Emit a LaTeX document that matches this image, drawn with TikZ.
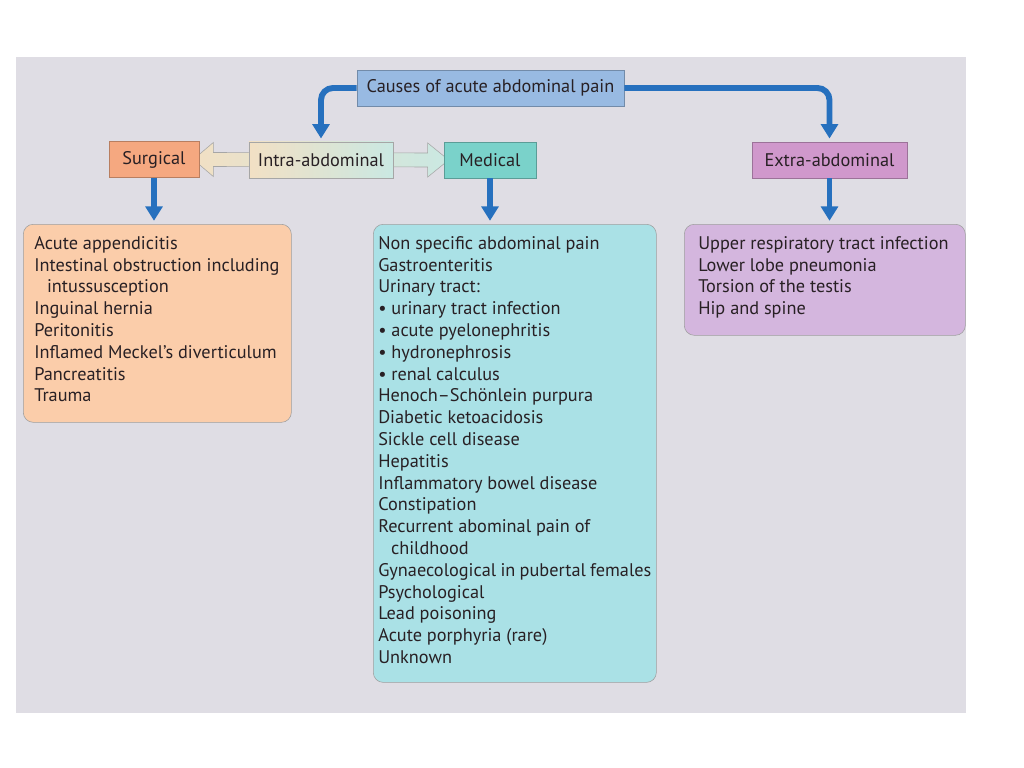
\documentclass[tikz,border=0pt]{standalone}
\usepackage{fontspec}
\setmainfont{PT Sans}
\usetikzlibrary{arrows.meta, calc, backgrounds}
\definecolor{panelgray}{RGB}{223, 221, 228}
\definecolor{flowblue}{RGB}{38, 112, 190}
\definecolor{inkdark}{RGB}{40, 32, 36}
\definecolor{causeblue}{RGB}{152, 186, 226}
\definecolor{surgorange}{RGB}{245, 168, 128}
\definecolor{medteal}{RGB}{122, 210, 202}
\definecolor{extrapink}{RGB}{208, 152, 204}
\definecolor{intrabeige}{RGB}{242, 224, 196}
\definecolor{intracyan}{RGB}{202, 232, 226}
\definecolor{surglight}{RGB}{251, 205, 170}
\definecolor{medlight}{RGB}{170, 225, 230}
\definecolor{extralight}{RGB}{212, 182, 222}
\newcommand{\causefont}{\fontsize{13}{15.5}\selectfont}

\begin{document}
\begin{tikzpicture}[x=0.025cm, y=-0.025cm,
    >={Triangle[width=0.42cm, length=0.36cm]},
    hdr/.style={draw=#1!75!black, fill=#1, minimum height=0.9cm, inner sep=0pt, text=inkdark, font=\causefont},
    listbox/.style={draw=gray!75, fill=#1, rounded corners=0.25cm, anchor=north west, inner ysep=0.3cm, text=inkdark, font=\causefont},
    flow/.style={->, line width=4.2pt, draw=flowblue, rounded corners=0.3cm, shorten >=0.08cm}]
    \useasboundingbox (0,0) rectangle (1024,768);

    % top row
    \node[hdr=causeblue, minimum width=6.675cm] (causes) at (490.5,88) {Causes of acute abdominal pain};
    \node[hdr=surgorange, minimum width=2.25cm] (surg) at (154,159.5) {Surgical};
    \node[hdr=medteal, minimum width=2.3cm] (med) at (490,160) {Medical};
    \node[hdr=extrapink, minimum width=3.875cm] (extra) at (829.5,160) {Extra-abdominal};
    \node[hdr=intrabeige, left color=intrabeige, right color=intracyan, draw=gray!70, minimum width=3.6cm] (intra) at (321,160) {Intra-abdominal};

    % lists
    \node[listbox=surglight, inner xsep=0.275cm] (surglist) at (23,224)
        {\parbox[t][4.35cm][t]{6.15cm}{Acute appendicitis\\
        Intestinal obstruction including\\
        \hspace*{0.7em}intussusception\\
        Inguinal hernia\\
        Peritonitis\\
        Inflamed Meckel's diverticulum\\
        Pancreatitis\\
        Trauma}};
    \node[listbox=medlight, inner xsep=0.125cm] (medlist) at (373,224)
        {\parbox[t][10.85cm][t]{6.825cm}{Non specific abdominal pain\\
        Gastroenteritis\\
        Urinary tract:\\
        \textbullet\ urinary tract infection\\
        \textbullet\ acute pyelonephritis\\
        \textbullet\ hydronephrosis\\
        \textbullet\ renal calculus\\
        Henoch--Schönlein purpura\\
        Diabetic ketoacidosis\\
        Sickle cell disease\\
        Hepatitis\\
        Inflammatory bowel disease\\
        Constipation\\
        Recurrent abominal pain of\\
        \hspace*{0.7em}childhood\\
        Gynaecological in pubertal females\\
        Psychological\\
        Lead poisoning\\
        Acute porphyria (rare)\\
        Unknown}};
    \node[listbox=extralight, inner xsep=0.35cm] (extralist) at (684,224)
        {\parbox[t][2.175cm][t]{6.325cm}{Upper respiratory tract infection\\
        Lower lobe pneumonia\\
        Torsion of the testis\\
        Hip and spine}};

    \begin{scope}[on background layer]
        \fill[white] (0,0) rectangle (1024,768);
        \fill[panelgray] (16,57) rectangle (966,713);
        % two-way hollow arrow behind intra
        \draw[gray!70, left color=intrabeige, right color=intracyan]
            ($(surg.east)+(-6,0)$) -- ++(20,-17) -- ++(0,10) -- ($(med.west)+(-16,-7)$)
            -- ++(0,-10) -- ($(med.west)+(5,0)$) -- ($(med.west)+(-16,17)$) -- ++(0,-10)
            -- ($(surg.east)+(14,7)$) -- ++(0,10) -- cycle;
    \end{scope}

    \draw[flow] (causes.west) -| (intra.north);
    \draw[flow] (causes.east) -| (extra.north);
    \draw[flow] (surg.south) -- (surg.south |- surglist.north);
    \draw[flow] (med.south) -- (med.south |- medlist.north);
    \draw[flow] (extra.south) -- (extra.south |- extralist.north);
\end{tikzpicture}
\end{document}
